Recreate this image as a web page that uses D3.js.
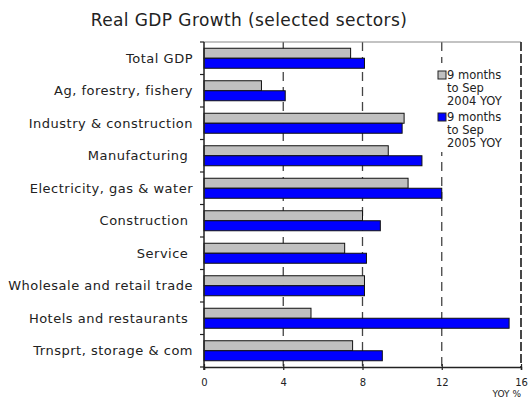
<!DOCTYPE html>
<html>
<head>
<meta charset="utf-8">
<script src="https://cdn.jsdelivr.net/npm/d3@7"></script>
<style>
  html, body { margin: 0; padding: 0; background: #fff; }
  svg { display: block; font-family: "DejaVu Sans", Verdana, sans-serif; }
  text { white-space: pre; }
</style>
</head>
<body>
<svg id="chart" width="528" height="398"></svg>
<script>
// Sector categories, top to bottom
const categories = [
  "Total GDP",
  "Ag, forestry, fishery",
  "Industry & construction",
  "Manufacturing ",
  "Electricity, gas & water",
  "Construction ",
  "Service ",
  "Wholesale and retail trade",
  "Hotels and restaurants ",
  "Trnsprt, storage & com"
];

// YOY growth, %
const growth2004 = [7.4, 2.9, 10.1, 9.3, 10.3, 8.0, 7.1, 8.1, 5.4, 7.5];
const growth2005 = [8.1, 4.1, 10.0, 11.0, 12.0, 8.9, 8.2, 8.1, 15.4, 9.0];

const seriesNames = ["9 months to Sep 2004 YOY", "9 months to Sep 2005 YOY"];
const seriesColors = ["#c0c0c0", "#0000ff"];
const legendLines = [["9 months", "to Sep", "2004 YOY"], ["9 months", "to Sep", "2005 YOY"]];

const xTicks = [0, 4, 8, 12, 16];
const gridTicks = [4, 8, 12];

const svg = d3.select("#chart");
const plotLeft = 204, plotRight = 521, plotTop = 42, plotBottom = 367;

const x = d3.scaleLinear().domain([0, 16]).range([plotLeft, plotRight]);
const y = d3.scaleBand().domain(categories).range([plotTop, plotBottom]);
const ySub = d3.scaleBand().domain([0, 1]).range([0, y.bandwidth()]).paddingOuter(0.625);

// Title
svg.append("text")
  .attr("x", 249).attr("y", 26)
  .attr("text-anchor", "middle")
  .attr("font-size", 17)
  .attr("letter-spacing", 0.4)
  .attr("fill", "#222")
  .text("Real GDP Growth (selected sectors)");

// Dashed vertical gridlines
svg.append("g").selectAll("line")
  .data(gridTicks)
  .join("line")
  .attr("x1", d => x(d)).attr("x2", d => x(d))
  .attr("y1", plotTop).attr("y2", plotBottom)
  .attr("stroke", "#444")
  .attr("stroke-width", 1.3)
  .attr("stroke-dasharray", "9,6");

// Top frame line
svg.append("line")
  .attr("x1", plotLeft).attr("x2", plotRight)
  .attr("y1", plotTop).attr("y2", plotTop)
  .attr("stroke", "#888").attr("stroke-width", 1.2);

// Right frame (dashed)
svg.append("line")
  .attr("x1", x(16)).attr("x2", x(16))
  .attr("y1", plotTop).attr("y2", plotBottom)
  .attr("stroke", "#333").attr("stroke-width", 1.8)
  .attr("stroke-dasharray", "9,3");

// Bars
const rows = categories.map((c, i) => ({ cat: c, vals: [growth2004[i], growth2005[i]] }));
const rowG = svg.append("g").selectAll("g")
  .data(rows)
  .join("g")
  .attr("transform", d => `translate(0,${y(d.cat)})`);

rowG.selectAll("rect")
  .data(d => d.vals.map((v, s) => ({ v, s })))
  .join("rect")
  .attr("x", x(0))
  .attr("y", d => ySub(d.s))
  .attr("width", d => x(d.v) - x(0))
  .attr("height", ySub.bandwidth())
  .attr("fill", d => seriesColors[d.s])
  .attr("stroke", "#111")
  .attr("stroke-width", 1);

// Legend (white backing hides the gridline behind it)
const lg = svg.append("g");
lg.append("rect")
  .attr("x", 436).attr("y", 63).attr("width", 76).attr("height", 89)
  .attr("fill", "#fff");
seriesNames.forEach((name, s) => {
  const y0 = 75 + s * 42;
  lg.append("rect")
    .attr("x", 438).attr("y", y0 - 4).attr("width", 8).attr("height", 8)
    .attr("fill", seriesColors[s]).attr("stroke", "#222").attr("stroke-width", 1);
  legendLines[s].forEach((ln, k) => {
    lg.append("text")
      .attr("x", 447).attr("y", y0 + 4 + k * 13)
      .attr("font-size", 11.5).attr("fill", "#222")
      .text(ln);
  });
});

// Left axis with category labels
const yAxis = svg.append("g").attr("transform", `translate(${plotLeft},0)`);
yAxis.append("line")
  .attr("x1", 0).attr("x2", 0).attr("y1", plotTop).attr("y2", plotBottom + 3)
  .attr("stroke", "#222").attr("stroke-width", 1.5);
const boundaries = categories.map(c => y(c)).concat([plotBottom]);
yAxis.selectAll("line.tick")
  .data(boundaries)
  .join("line")
  .attr("class", "tick")
  .attr("x1", -4).attr("x2", 0)
  .attr("y1", d => d).attr("y2", d => d)
  .attr("stroke", "#222").attr("stroke-width", 1.2);
yAxis.selectAll("text")
  .data(categories)
  .join("text")
  .attr("x", -11)
  .attr("y", d => y(d) + y.bandwidth() / 2)
  .attr("dy", "0.35em")
  .attr("text-anchor", "end")
  .attr("font-size", 13)
  .attr("letter-spacing", 0.5)
  .attr("fill", "#222")
  .text(d => d);

// Bottom axis
const xAxis = svg.append("g").attr("transform", `translate(0,${plotBottom})`)
  .call(d3.axisBottom(x).tickValues(xTicks).tickSize(3).tickPadding(9));
xAxis.select(".domain").attr("stroke", "#222").attr("stroke-width", 1.5);
xAxis.selectAll(".tick line").attr("y1", -3).attr("stroke", "#222").attr("stroke-width", 1.2);
xAxis.selectAll(".tick text")
  .attr("font-family", "'DejaVu Sans', Verdana, sans-serif")
  .attr("font-size", 10).attr("fill", "#222");

// Axis unit label
svg.append("text")
  .attr("x", 521).attr("y", 397)
  .attr("text-anchor", "end")
  .attr("font-size", 9).attr("fill", "#222")
  .text("YOY %");
</script>
</body>
</html>
